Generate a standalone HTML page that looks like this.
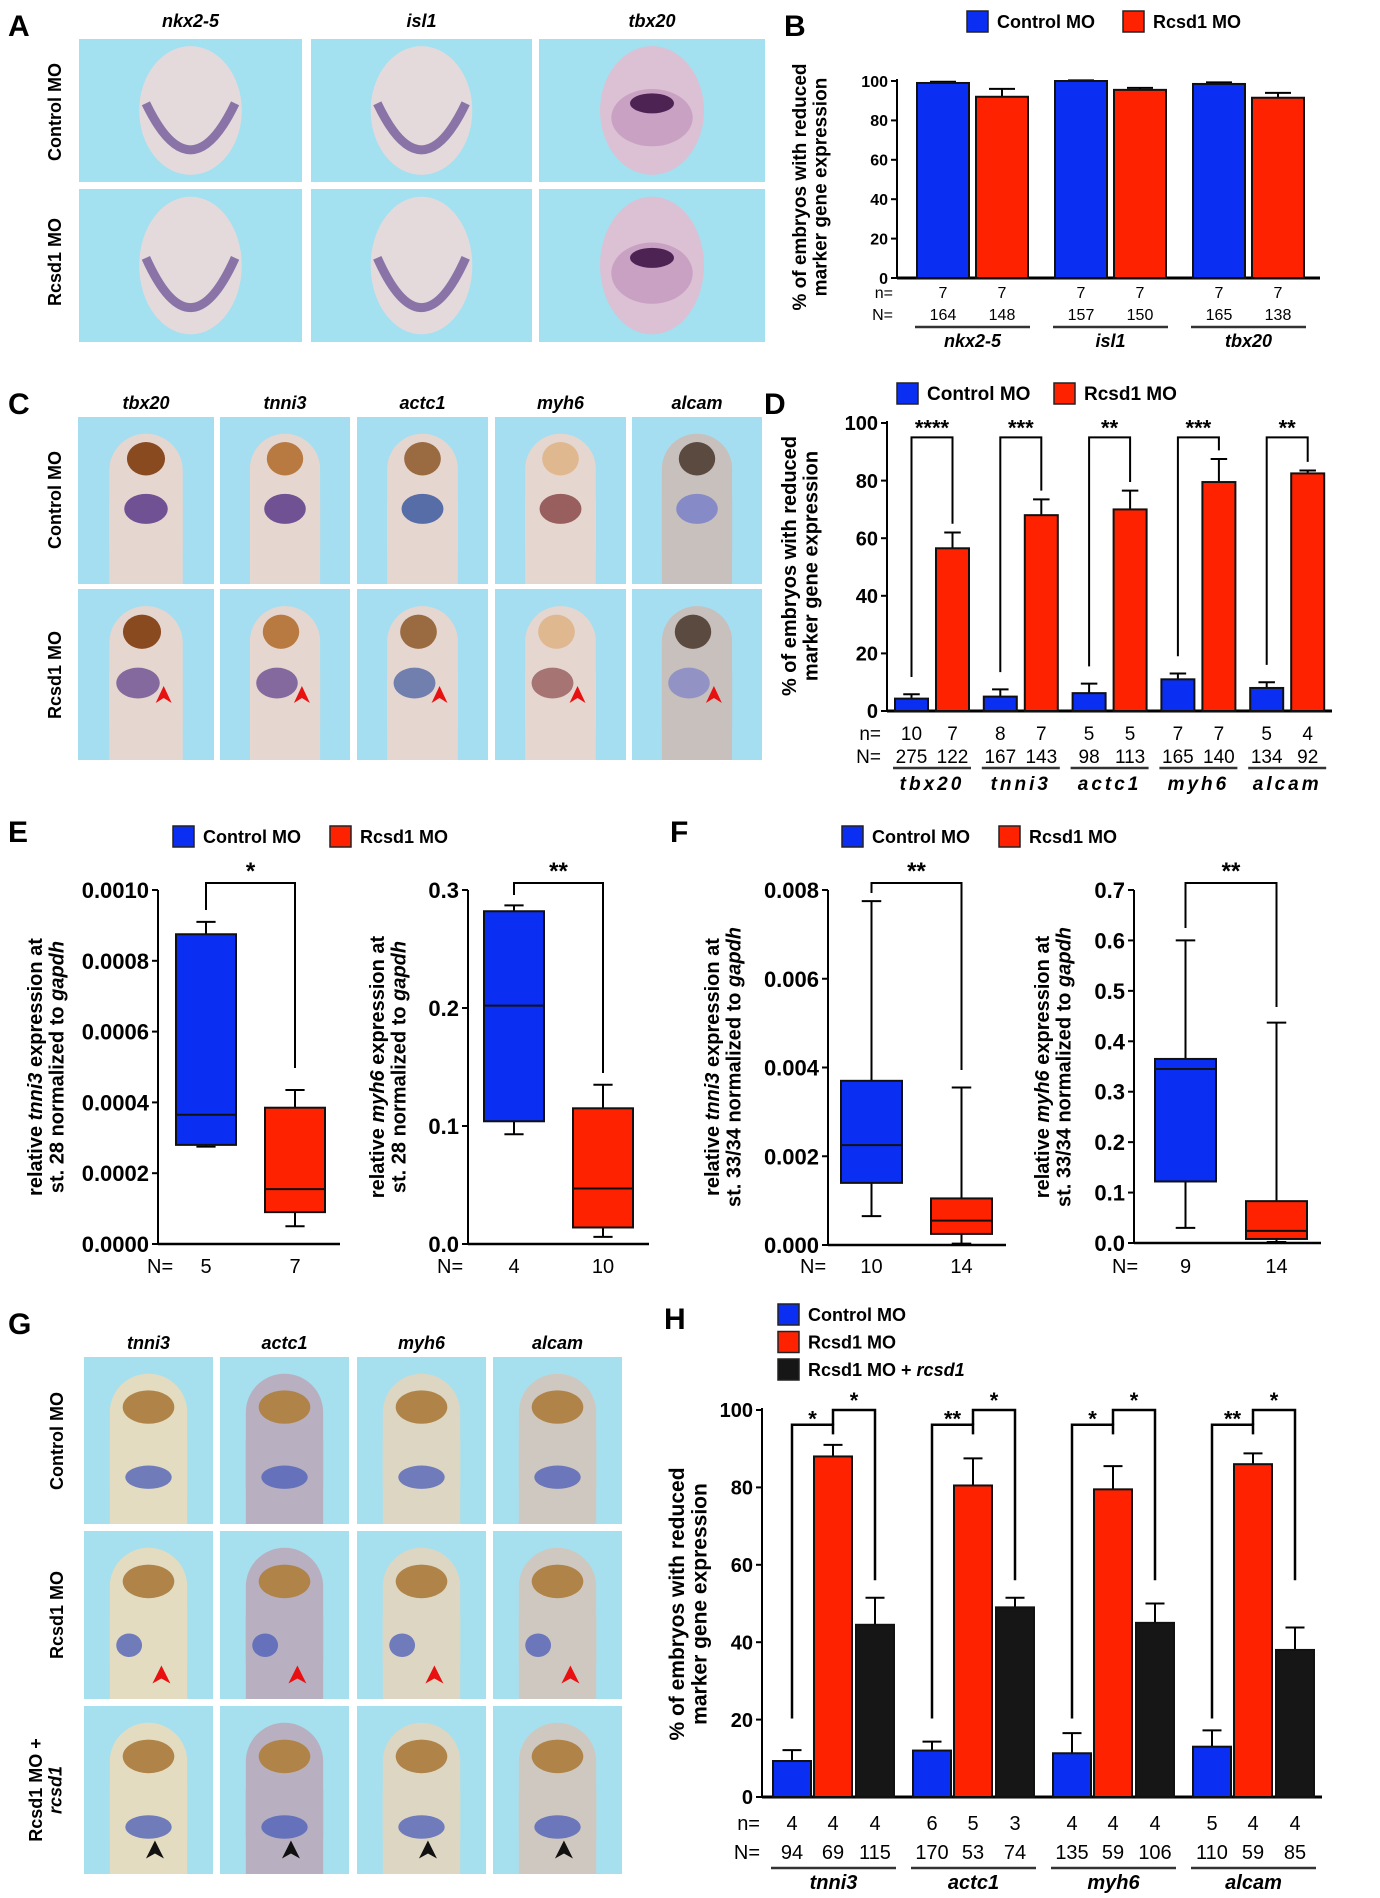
<!DOCTYPE html>
<html><head><meta charset="utf-8"><style>
html,body{margin:0;padding:0;background:#fff}
svg{display:block}
text{font-family:"Liberation Sans",Arial,sans-serif}
</style></head><body>
<svg id="fig" xmlns="http://www.w3.org/2000/svg" width="1380" height="1898" viewBox="0 0 1380 1898">
<rect x="0" y="0" width="1380" height="1898" fill="#fff"/>
</svg>
<script>
// ---------- data ----------
const bGenes=['nkx2-5','isl1','tbx20'];
const bCtrl=[99,100,98.5];
const bCtrlErr=[0.6,0.3,0.8];
const bRcsd=[92,95.5,91.5];
const bRcsdErr=[4,1,2.5];
const bn=[['7','7'],['7','7'],['7','7']];
const bN=[['164','148'],['157','150'],['165','138']];

const dGenes=['tbx20','tnni3','actc1','myh6','alcam'];
const dCtrl=[4.3,5,6.2,11,8];
const dCtrlErr=[1.5,2.5,3.3,2,2];
const dRcsd=[56.5,68,70,79.5,82.5];
const dRcsdErr=[5.5,5.5,6.5,8,1];
const dStars=['****','***','**','***','**'];
const dn=[['10','7'],['8','7'],['5','5'],['7','7'],['5','4']];
const dN=[['275','122'],['167','143'],['98','113'],['165','140'],['134','92']];

const hGenes=['tnni3','actc1','myh6','alcam'];
const hCtrl=[9.3,12,11.3,13];
const hCtrlErr=[2.8,2.3,5.2,4.2];
const hRcsd=[88,80.5,79.5,86];
const hRcsdErr=[3,7,6,2.8];
const hRescue=[44.5,49,45,38];
const hRescueErr=[7,2.5,5,5.8];
const hStarsLow=['*','**','*','**'];
const hStarsHigh=['*','*','*','*'];
const hn=[['4','4','4'],['6','5','3'],['4','4','4'],['5','4','4']];
const hN=[['94','69','115'],['170','53','74'],['135','59','106'],['110','59','85']];

// box plots: [min,q1,median,q3,max]
const e1Ctrl=[0.000275,0.00028,0.000365,0.000875,0.00091];
const e1Rcsd=[0.00005,0.00009,0.000155,0.000385,0.000435];
const e1Ticks=['0.0000','0.0002','0.0004','0.0006','0.0008','0.0010'];
const e2Ctrl=[0.093,0.104,0.202,0.282,0.287];
const e2Rcsd=[0.006,0.014,0.047,0.115,0.135];
const e2Ticks=['0.0','0.1','0.2','0.3'];
const f1Ctrl=[0.00065,0.0014,0.00225,0.0037,0.00775];
const f1Rcsd=[0.00003,0.00025,0.00055,0.00105,0.00355];
const f1Ticks=['0.000','0.002','0.004','0.006','0.008'];
const f2Ctrl=[0.03,0.122,0.345,0.365,0.6];
const f2Rcsd=[0.002,0.008,0.024,0.083,0.437];
const f2Ticks=['0.0','0.1','0.2','0.3','0.4','0.5','0.6','0.7'];

// ---------- helpers ----------
const NS='http://www.w3.org/2000/svg';
const svg=document.getElementById('fig');
const BLUE='#0b2ff2',RED='#ff2200',BLACK='#161616';
function el(tag,a,parent){const e=document.createElementNS(NS,tag);for(const k in a)e.setAttribute(k,a[k]);(parent||svg).appendChild(e);return e;}
function txt(x,y,s,a,parent){const t=el('text',Object.assign({x:x,y:y},a||{}),parent);t.textContent=s;return t;}
function grp(name){const g=el('g',{});return g;}

function panelLabel(x,y,s){const t=txt(x,y,s,{'font-size':30,'font-weight':'bold'});

}

function legend(items,x,y,dx,dy,fs){
  const g=grp('legend');
  items.forEach((it,i)=>{
    const lx=x+i*dx, ly=y+i*dy;
    const r=el('rect',{x:lx,y:ly,width:21,height:21,fill:it.c,stroke:'#222','stroke-width':1.5},g);
    
    
    const t=txt(lx+30,ly+17,'',{'font-size':fs,'font-weight':'bold'},g);
    
    
    it.parts.forEach(p=>{const ts=el('tspan',p.it?{'font-style':'italic'}:{},t);ts.textContent=p.s;});
  });
}

function yTitle(cx,cy,lines,fs,name){
  const g=grp(name);
  lines.forEach((ln,i)=>{
    const t=el('text',{x:0,y:0,'font-size':fs,'font-weight':'bold','text-anchor':'middle',transform:'translate('+(cx+i*fs*1.08)+','+cy+') rotate(-90)'},g);
    ln.forEach(p=>{const ts=el('tspan',p.it?{'font-style':'italic'}:{},t);ts.textContent=p.s;});
  });
}

// ---------- bar charts ----------
function barChart(o){
  const g=grp(o.name);
  const ys=v=>o.y0-(v/100)*(o.y0-o.y100);
  const xs=(gi,si)=>o.start+gi*o.step+o.offs[si];
  const ax=el('line',{x1:o.x0,y1:o.y100-2,x2:o.x0,y2:o.y0,stroke:'#000','stroke-width':2},g);
  
  const bx=el('line',{x1:o.x0,y1:o.y0,x2:o.xEnd,y2:o.y0,stroke:'#000','stroke-width':3},g);
  
  for(let v=0;v<=100;v+=20){
    el('line',{x1:o.x0-6,y1:ys(v),x2:o.x0,y2:ys(v),stroke:'#000','stroke-width':2},g);
    const t=txt(o.x0-9,ys(v)+o.tfs*0.36,String(v),{'font-size':o.tfs,'font-weight':'bold','text-anchor':'end'},g);
    
  }
  o.series.forEach((s,si)=>{
    s.vals.forEach((v,gi)=>{
      const x=xs(gi,si), top=ys(v), e=ys(v+s.err[gi]);
      const cx=x+o.bw/2;
      el('line',{x1:cx,y1:top,x2:cx,y2:e,stroke:'#000','stroke-width':2},g);
      el('line',{x1:cx-o.bw*0.25,y1:e,x2:cx+o.bw*0.25,y2:e,stroke:'#000','stroke-width':2},g);
      const r=el('rect',{x:x,y:top,width:o.bw,height:o.y0-top,fill:s.c,stroke:'#111','stroke-width':2},g);
      
      
    });
  });
  const nl=txt(o.nx,o.nY,'n=',{'font-size':o.lfs,'text-anchor':'end'},g);
  
  const Nl=txt(o.nx,o.NY,'N=',{'font-size':o.lfs,'text-anchor':'end'},g);
  
  o.genes.forEach((gn,gi)=>{
    o.series.forEach((s,si)=>{
      const cx=xs(gi,si)+o.bw/2;
      txt(cx,o.nY,o.n[gi][si],{'font-size':o.lfs,'text-anchor':'middle'},g);
      txt(cx,o.NY,o.N[gi][si],{'font-size':o.lfs,'text-anchor':'middle'},g);
    });
    const l=xs(gi,0)-2, r=xs(gi,o.series.length-1)+o.bw+2;
    el('line',{x1:l,y1:o.uY,x2:r,y2:o.uY,stroke:'#333','stroke-width':2.5},g);
    const t=txt((l+r)/2,o.gY,gn,{'font-size':o.gfs,'font-weight':'bold','font-style':'italic','text-anchor':'middle','letter-spacing':o.ls||0},g);
    
  });
  return {g:g,ys:ys,xs:xs};
}

// Panel B
const B=barChart({name:'chart-b',genes:bGenes,x0:897,y100:81,y0:278,xEnd:1320,start:917,step:138,bw:52,offs:[0,59],
 series:[{key:'control',c:BLUE,vals:bCtrl,err:bCtrlErr},{key:'rcsd1',c:RED,vals:bRcsd,err:bRcsdErr}],
 tfs:16,lfs:16,gfs:18,nx:893,nY:298,NY:320,uY:327,gY:347,n:bn,N:bN});

// Panel D
const D=barChart({name:'chart-d',genes:dGenes,x0:887,y100:423,y0:711,xEnd:1332,start:895,step:88.8,bw:33,offs:[0,41],
 series:[{key:'control',c:BLUE,vals:dCtrl,err:dCtrlErr},{key:'rcsd1',c:RED,vals:dRcsd,err:dRcsdErr}],
 tfs:20,lfs:19,gfs:19,nx:881,nY:740,NY:763,uY:768,gY:790,n:dn,N:dN,ls:3});
dGenes.forEach((gn,gi)=>{
  const xa=D.xs(gi,0)+33/2, xb=D.xs(gi,1)+33/2, yt=D.ys(95);
  const ya=D.ys(dCtrl[gi]+dCtrlErr[gi]+6), yb=D.ys(dRcsd[gi]+dRcsdErr[gi]+3);
  const p=el('path',{d:'M'+xa+' '+ya+' V'+yt+' H'+xb+' V'+yb,fill:'none',stroke:'#000','stroke-width':2},D.g);
  
  
  txt((xa+xb)/2,yt-2,dStars[gi],{'font-size':22,'font-weight':'bold','text-anchor':'middle'},D.g);
});

// Panel H
const H=barChart({name:'chart-h',genes:hGenes,x0:762,y100:1410,y0:1797,xEnd:1322,start:773,step:140,bw:38,offs:[0,41,83],
 series:[{key:'control',c:BLUE,vals:hCtrl,err:hCtrlErr},{key:'rcsd1',c:RED,vals:hRcsd,err:hRcsdErr},{key:'rescue',c:BLACK,vals:hRescue,err:hRescueErr}],
 tfs:20,lfs:20,gfs:20,nx:760,nY:1830,NY:1859,uY:1868,gY:1889,n:hn,N:hN});
hGenes.forEach((gn,gi)=>{
  const xa=H.xs(gi,0)+19, xb=H.xs(gi,1)+19, xc=H.xs(gi,2)+19;
  const yl=H.ys(96.2), yh=H.ys(100);
  const p1=el('path',{d:'M'+xa+' '+H.ys(20.3)+' V'+yl+' H'+xb+' V'+H.ys(93.7),fill:'none',stroke:'#000','stroke-width':2.5},H.g);
  
  
  const p2=el('path',{d:'M'+xb+' '+yl+' V'+yh+' H'+xc+' V'+H.ys(56),fill:'none',stroke:'#000','stroke-width':2.5},H.g);
  
  
  txt((xa+xb)/2,yl+2,hStarsLow[gi],{'font-size':22,'font-weight':'bold','text-anchor':'middle'},H.g);
  txt((xb+xc)/2,yh-2,hStarsHigh[gi],{'font-size':22,'font-weight':'bold','text-anchor':'middle'},H.g);
});

// ---------- box plots ----------
function boxChart(o){
  const g=grp(o.name);
  const ys=v=>o.y0-(v/o.max)*(o.y0-o.ytop);
  const ax=el('line',{x1:o.x0,y1:o.ytop,x2:o.x0,y2:o.y0,stroke:'#000','stroke-width':2},g);
  
  const bx=el('line',{x1:o.x0,y1:o.y0,x2:o.xEnd,y2:o.y0,stroke:'#000','stroke-width':2.5},g);
  
  o.ticks.forEach((lab,i)=>{
    const v=i*o.max/(o.ticks.length-1);
    el('line',{x1:o.x0-6,y1:ys(v),x2:o.x0,y2:ys(v),stroke:'#000','stroke-width':2},g);
    const t=txt(o.x0-9,ys(v)+8,lab,{'font-size':22,'font-weight':'bold','text-anchor':'end'},g);
    
  });
  const boxes=[{d:o.ctrl,x:o.bx[0],c:BLUE,k:'control'},{d:o.rcsd,x:o.bx[1],c:RED,k:'rcsd1'}];
  boxes.forEach(b=>{
    const cx=b.x+o.bw/2, d=b.d;
    el('line',{x1:cx,y1:ys(d[4]),x2:cx,y2:ys(d[0]),stroke:'#000','stroke-width':2},g);
    el('line',{x1:cx-o.bw*0.16,y1:ys(d[4]),x2:cx+o.bw*0.16,y2:ys(d[4]),stroke:'#000','stroke-width':2},g);
    el('line',{x1:cx-o.bw*0.16,y1:ys(d[0]),x2:cx+o.bw*0.16,y2:ys(d[0]),stroke:'#000','stroke-width':2},g);
    const r=el('rect',{x:b.x,y:ys(d[3]),width:o.bw,height:ys(d[1])-ys(d[3]),fill:b.c,stroke:'#111','stroke-width':2},g);
    
    
    const m=el('line',{x1:b.x,y1:ys(d[2]),x2:b.x+o.bw,y2:ys(d[2]),stroke:'#111','stroke-width':2},g);
    
    
  });
  const xa=o.bx[0]+o.bw/2, xb=o.bx[1]+o.bw/2, yt=o.ytop-7;
  const p=el('path',{d:'M'+xa+' '+o.legA+' V'+yt+' H'+xb+' V'+o.legB,fill:'none',stroke:'#000','stroke-width':2},g);
  
  
  txt((xa+xb)/2,yt-4,o.stars,{'font-size':24,'font-weight':'bold','text-anchor':'middle'},g);
  const nl=txt(o.Nx,1273,'N=',{'font-size':20},g);
  
  txt(xa,1273,o.N[0],{'font-size':20,'text-anchor':'middle'},g);
  txt(xb,1273,o.N[1],{'font-size':20,'text-anchor':'middle'},g);
}
boxChart({name:'chart-e-tnni3',x0:158,ytop:890,y0:1244,xEnd:340,max:0.001,ticks:e1Ticks,ctrl:e1Ctrl,rcsd:e1Rcsd,bx:[176,265],bw:60,legA:910,legB:1068,stars:'*',Nx:147,N:['5','7']});
boxChart({name:'chart-e-myh6',x0:468,ytop:890,y0:1244,xEnd:649,max:0.3,ticks:e2Ticks,ctrl:e2Ctrl,rcsd:e2Rcsd,bx:[484,573],bw:60,legA:895,legB:1073,stars:'**',Nx:437,N:['4','10']});
boxChart({name:'chart-f-tnni3',x0:828,ytop:890,y0:1245,xEnd:1006,max:0.008,ticks:f1Ticks,ctrl:f1Ctrl,rcsd:f1Rcsd,bx:[841,931],bw:61,legA:893,legB:1070,stars:'**',Nx:800,N:['10','14']});
boxChart({name:'chart-f-myh6',x0:1134,ytop:890,y0:1243,xEnd:1321,max:0.7,ticks:f2Ticks,ctrl:f2Ctrl,rcsd:f2Rcsd,bx:[1155,1246],bw:61,legA:928,legB:1007,stars:'**',Nx:1112,N:['9','14']});

// ---------- legends, titles, labels ----------
const LC={c:BLUE,parts:[{s:'Control MO'}]}, LR={c:RED,parts:[{s:'Rcsd1 MO'}]};
legend([LC,LR],967,11,156,0,18);
legend([LC,LR],897,383,157,0,19);
legend([LC,LR],173,826,157,0,18);
legend([LC,LR],842,826,157,0,18);
legend([LC,LR,{c:BLACK,parts:[{s:'Rcsd1 MO + '},{s:'rcsd1',it:true}]}],778,1304,0,27.5,18);

const T1=[[{s:'% of embryos with reduced'}],[{s:'marker gene expression'}]];
yTitle(806,187,T1,19,'y-axis-title-b');
yTitle(796,566,T1,20,'y-axis-title-d');
yTitle(684,1604,T1,21,'y-axis-title-h');
yTitle(42,1067,[[{s:'relative '},{s:'tnni3',it:true},{s:' expression at'}],[{s:'st. 28 normalized to '},{s:'gapdh',it:true}]],20,'y-axis-title-e-tnni3');
yTitle(384,1067,[[{s:'relative '},{s:'myh6',it:true},{s:' expression at'}],[{s:'st. 28 normalized to '},{s:'gapdh',it:true}]],20,'y-axis-title-e-myh6');
yTitle(719,1067,[[{s:'relative '},{s:'tnni3',it:true},{s:' expression at'}],[{s:'st. 33/34 normalized to '},{s:'gapdh',it:true}]],20,'y-axis-title-f-tnni3');
yTitle(1049,1067,[[{s:'relative '},{s:'myh6',it:true},{s:' expression at'}],[{s:'st. 33/34 normalized to '},{s:'gapdh',it:true}]],20,'y-axis-title-f-myh6');

panelLabel(8,36,'A');panelLabel(784,36,'B');
panelLabel(8,414,'C');panelLabel(764,414,'D');
panelLabel(8,842,'E');panelLabel(670,842,'F');
panelLabel(8,1334,'G');panelLabel(664,1329,'H');

// ---------- photo panels ----------
function header(x,y,s){const t=txt(x,y,s,{'font-size':18,'font-weight':'bold','font-style':'italic','text-anchor':'middle'});
}
function rowLabel(cx,cy,lines){yTitle(cx,cy,lines,18,'row-label');}

// Panel A
const aCols=[[79,302],[311,532],[539,765]], aRows=[[39,182],[189,342]];
['nkx2-5','isl1','tbx20'].forEach((h,i)=>header((aCols[i][0]+aCols[i][1])/2,27,h));
rowLabel(61,112,[[{s:'Control MO'}]]);rowLabel(61,262,[[{s:'Rcsd1 MO'}]]);
const gA=grp('photo-panel-a');
aRows.forEach((r,ri)=>aCols.forEach((c,ci)=>{
  const w=c[1]-c[0],h=r[1]-r[0],cx=(c[0]+c[1])/2,cy=(r[0]+r[1])/2;
  el('rect',{x:c[0],y:r[0],width:w,height:h,fill:'#a3e0f0'},gA);
  el('ellipse',{cx:cx,cy:cy,rx:w*0.23,ry:h*0.45,fill:ci==2?'#dcc0d4':'#e4dadc'},gA);
  if(ci<2){
    el('path',{d:'M'+(cx-w*0.2)+' '+(cy-h*0.05)+' Q'+cx+' '+(cy+h*0.6)+' '+(cx+w*0.2)+' '+(cy-h*0.05),fill:'none',stroke:'#6c5296','stroke-width':9,opacity:0.75},gA);
  } else {
    el('ellipse',{cx:cx,cy:cy-h*0.05,rx:22,ry:10,fill:'#2a0c34'},gA);
    el('ellipse',{cx:cx,cy:cy+h*0.05,rx:w*0.18,ry:h*0.2,fill:'#9a5a9c',opacity:0.3},gA);
  }
}));

// Panel C
const cCols=[[78,214],[220,350],[357,488],[495,626],[632,762]], cRows=[[417,584],[589,760]];
['tbx20','tnni3','actc1','myh6','alcam'].forEach((h,i)=>header((cCols[i][0]+cCols[i][1])/2,409,h));
rowLabel(61,500,[[{s:'Control MO'}]]);rowLabel(61,675,[[{s:'Rcsd1 MO'}]]);
const gC=grp('photo-panel-c');
const cHeart=['#5a3a8a','#5a3a8a','#3d5aa0','#8a4a4a','#7a80c8'];
const cEye=['#8a4a20','#b87a40','#9a6a40','#e0b890','#5a4a40'];
cRows.forEach((r,ri)=>cCols.forEach((c,ci)=>{
  const w=c[1]-c[0],h=r[1]-r[0],cx=(c[0]+c[1])/2;
  el('rect',{x:c[0],y:r[0],width:w,height:h,fill:'#a4def0'},gC);
  el('rect',{x:cx-w*0.27,y:r[0]+h*0.1,width:w*0.54,height:h*0.9,rx:w*0.27,fill:ci==4?'#c8c0bc':'#e6d6d0'},gC);
  el('rect',{x:cx-w*0.27,y:r[0]+h*0.5,width:w*0.54,height:h*0.5,fill:ci==4?'#c8c0bc':'#e6d6d0'},gC);
  el('ellipse',{cx:cx-(ri?4:0),cy:r[0]+h*0.25,rx:w*0.14,ry:h*0.1,fill:cEye[ci]},gC);
  el('ellipse',{cx:cx-(ri?8:0),cy:r[0]+h*0.55,rx:w*0.16,ry:h*0.09,fill:cHeart[ci],opacity:ri?0.7:0.85},gC);
  if(ri==1){const ax=cx+w*0.13,ay=r[0]+h*0.62;
    const a=el('path',{d:'M'+ax+' '+(ay-9)+' L'+(ax+8)+' '+(ay+8)+' L'+ax+' '+(ay+3)+' L'+(ax-8)+' '+(ay+8)+'Z',fill:'#e81010'},gC);
    }
}));

// Panel G
const gCols=[[84,213],[220,349],[357,486],[493,622]], gRows=[[1357,1524],[1531,1699],[1706,1874]];
['tnni3','actc1','myh6','alcam'].forEach((h,i)=>header((gCols[i][0]+gCols[i][1])/2,1349,h));
rowLabel(63,1441,[[{s:'Control MO'}]]);rowLabel(63,1615,[[{s:'Rcsd1 MO'}]]);
yTitle(42,1790,[[{s:'Rcsd1 MO +'}],[{s:'rcsd1',it:true}]],18,'row-label');
const gG=grp('photo-panel-g');
const gBody=['#e4dcc0','#b8b0c0','#ddd6c2','#cfc8c0'];
gRows.forEach((r,ri)=>gCols.forEach((c,ci)=>{
  const w=c[1]-c[0],h=r[1]-r[0],cx=(c[0]+c[1])/2;
  el('rect',{x:c[0],y:r[0],width:w,height:h,fill:'#a6e0ee'},gG);
  el('rect',{x:cx-w*0.3,y:r[0]+h*0.1,width:w*0.6,height:h*0.9,rx:w*0.3,fill:gBody[ci]},gG);
  el('rect',{x:cx-w*0.3,y:r[0]+h*0.5,width:w*0.6,height:h*0.5,fill:gBody[ci]},gG);
  el('ellipse',{cx:cx,cy:r[0]+h*0.3,rx:w*0.2,ry:h*0.1,fill:'#b08448'},gG);
  el('ellipse',{cx:cx-(ri==1?w*0.15:0),cy:r[0]+h*(ri==1?0.68:0.72),rx:w*(ri==1?0.1:0.18),ry:h*0.07,fill:'#4a5cb8',opacity:0.75},gG);
  const ax=cx+(ri==1?w*0.1:w*0.05), ay=r[0]+h*0.86;
  const a=el('path',{d:'M'+ax+' '+(ay-10)+' L'+(ax+9)+' '+(ay+8)+' L'+ax+' '+(ay+3)+' L'+(ax-9)+' '+(ay+8)+'Z',fill:ri==1?'#e81010':(ri==2?'#111':'none')},gG);
  
  
}));
</script>
</body></html>
